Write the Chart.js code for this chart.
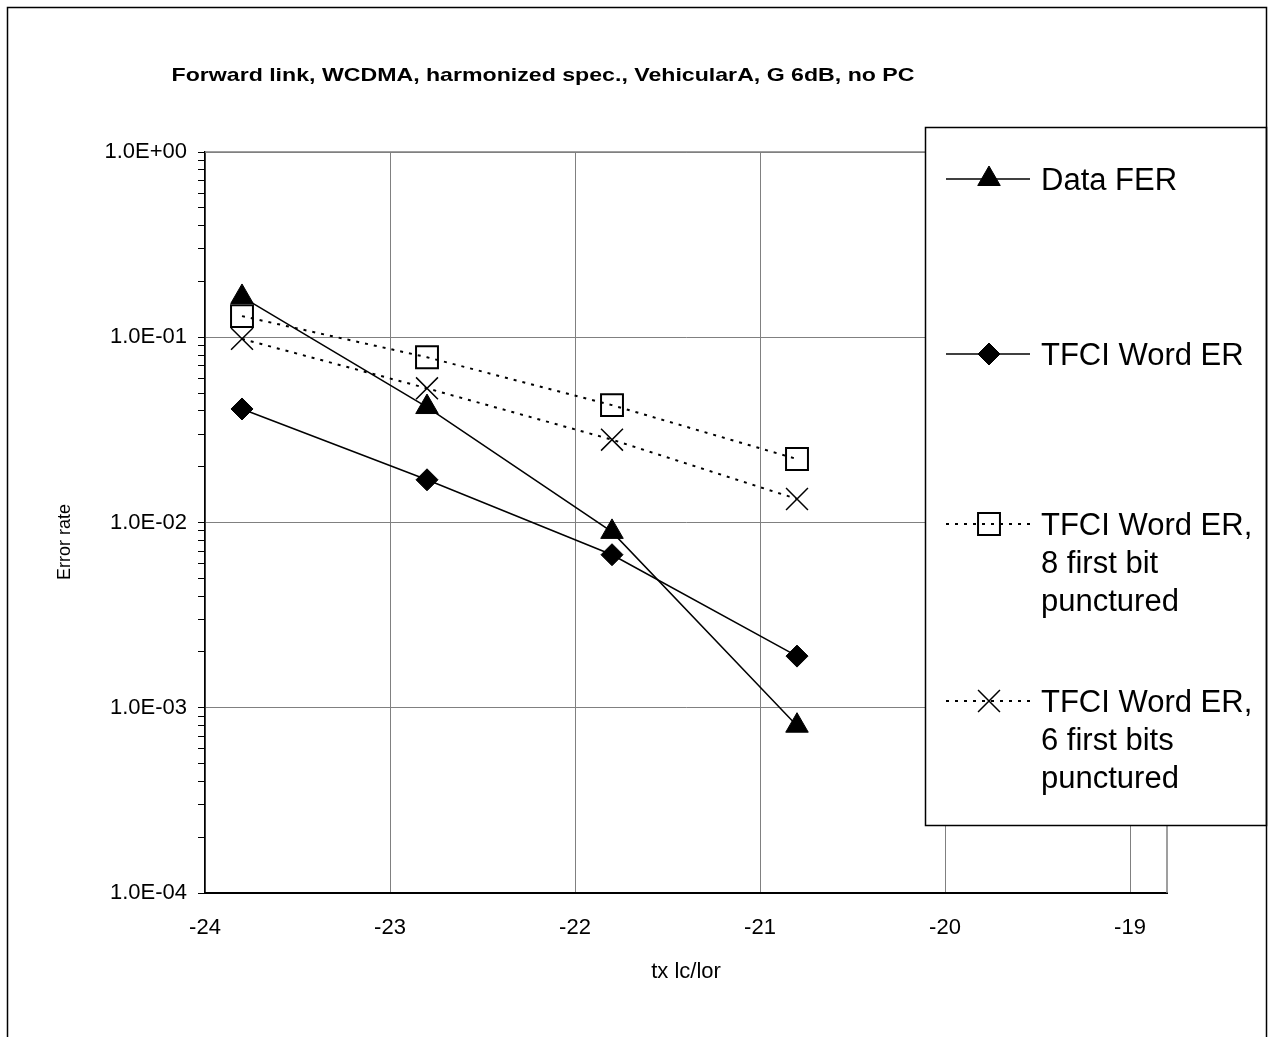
<!DOCTYPE html>
<html>
<head>
<meta charset="utf-8">
<script src="https://cdn.jsdelivr.net/npm/chart.js@4.4.1/dist/chart.umd.min.js"></script>
<style>
  body { margin: 0; background: #fff; }
  canvas { display: block; }
</style>
</head>
<body>
<canvas id="grafico" width="1272" height="1037"></canvas>
<script>
// datos
const titulo = 'Forward link, WCDMA, harmonized spec., VehicularA, G 6dB, no PC';
const tituloX = 'tx lc/lor';
const tituloY = 'Error rate';
const txIcIor = [-23.8, -22.8, -21.8, -20.8];
const dataFER = [0.165, 0.042, 0.0089, 0.0008];
const tfciWordER = [0.041, 0.017, 0.0067, 0.0019];
const tfci8Punct = [0.13, 0.078, 0.043, 0.022];
const tfci6Punct = [0.098, 0.053, 0.028, 0.0134];
const etiquetas = [
  ['Data FER'],
  ['TFCI Word ER'],
  ['TFCI Word ER,', '8 first bit', 'punctured'],
  ['TFCI Word ER,', '6 first bits', 'punctured']
];
const xTicks = [-24, -23, -22, -21, -20, -19];
const yTicks = [1, 0.1, 0.01, 0.001, 0.0001];
const yTickLabels = ['1.0E+00', '1.0E-01', '1.0E-02', '1.0E-03', '1.0E-04'];

Chart.defaults.font.family = '"Liberation Sans", Arial, sans-serif';
Chart.defaults.color = '#000';

const puntos = ys => txIcIor.map((x, i) => ({ x: x, y: ys[i] }));
const indiceDecada = v => yTicks.findIndex(t => Math.abs(Math.log10(v) - Math.log10(t)) < 1e-6);

// marco, leyenda y titulos
const decorado = {
  id: 'decorado',
  beforeDraw(chart) {
    const ctx = chart.ctx;
    ctx.save();
    ctx.fillStyle = '#fff';
    ctx.fillRect(0, 0, chart.width, chart.height);
    ctx.restore();
  },
  beforeDatasetsDraw(chart) {
    const { ctx, chartArea: a } = chart;
    ctx.save();
    ctx.strokeStyle = '#808080';
    ctx.lineWidth = 1.5;
    ctx.beginPath();
    ctx.moveTo(a.left, a.top);
    ctx.lineTo(a.right, a.top);
    ctx.lineTo(a.right, a.bottom);
    ctx.stroke();
    ctx.restore();
  },
  afterDraw(chart) {
    const ctx = chart.ctx;
    ctx.save();

    // caja de la leyenda
    ctx.fillStyle = '#fff';
    ctx.fillRect(925, 127, 341, 698);
    ctx.strokeStyle = '#000';
    ctx.lineWidth = 1.5;
    ctx.strokeRect(925.5, 127.5, 341, 698);

    const filaY = [179, 354, 524, 701];
    chart.data.datasets.forEach((ds, i) => {
      const y = filaY[i];
      ctx.save();
      ctx.strokeStyle = '#000';
      ctx.lineWidth = ds.borderWidth;
      ctx.setLineDash(ds.borderDash || []);
      ctx.beginPath();
      ctx.moveTo(946, y);
      ctx.lineTo(1030, y);
      ctx.stroke();
      ctx.setLineDash([]);
      ctx.fillStyle = ds.pointBackgroundColor;
      ctx.lineWidth = ds.pointBorderWidth;
      Chart.helpers.drawPoint(ctx, {
        pointStyle: ds.pointStyle,
        radius: ds.pointRadius,
        rotation: 0,
        borderWidth: ds.pointBorderWidth
      }, 989, y);
      ctx.restore();

      ctx.fillStyle = '#000';
      ctx.font = '31px "Liberation Sans", Arial, sans-serif';
      ctx.textAlign = 'left';
      ctx.textBaseline = 'middle';
      etiquetas[i].forEach((linea, j) => ctx.fillText(linea, 1041, y + 2 + j * 38));
    });

    // titulo del grafico
    ctx.font = 'bold 19px "Liberation Sans", Arial, sans-serif';
    ctx.textAlign = 'center';
    ctx.textBaseline = 'middle';
    const sx = 743 / ctx.measureText(titulo).width;
    ctx.save();
    ctx.translate(543, 76);
    ctx.scale(sx, 1);
    ctx.fillText(titulo, 0, 0);
    ctx.restore();

    // titulo eje Y
    ctx.save();
    ctx.font = '18px "Liberation Sans", Arial, sans-serif';
    ctx.translate(65, 542);
    ctx.rotate(-Math.PI / 2);
    ctx.fillText(tituloY, 0, 0);
    ctx.restore();

    // marco exterior
    ctx.strokeStyle = '#000';
    ctx.lineWidth = 1.5;
    ctx.strokeRect(7.5, 7.5, 1259, 1100);
    ctx.restore();
  }
};

new Chart(document.getElementById('grafico'), {
  type: 'scatter',
  data: {
    datasets: [
      {
        label: etiquetas[0].join(' '),
        data: puntos(dataFER),
        showLine: true,
        borderColor: '#000',
        borderWidth: 1.5,
        pointStyle: 'triangle',
        pointRadius: 13,
        pointBackgroundColor: '#000',
        pointBorderColor: '#000',
        pointBorderWidth: 1
      },
      {
        label: etiquetas[1].join(' '),
        data: puntos(tfciWordER),
        showLine: true,
        borderColor: '#000',
        borderWidth: 1.5,
        pointStyle: 'rectRot',
        pointRadius: 11,
        pointBackgroundColor: '#000',
        pointBorderColor: '#000',
        pointBorderWidth: 1
      },
      {
        label: etiquetas[2].join(' '),
        data: puntos(tfci8Punct),
        showLine: true,
        borderColor: '#000',
        borderWidth: 2,
        borderDash: [3, 6],
        pointStyle: 'rect',
        pointRadius: 15.5,
        pointBackgroundColor: 'rgba(0,0,0,0)',
        pointBorderColor: '#000',
        pointBorderWidth: 2
      },
      {
        label: etiquetas[3].join(' '),
        data: puntos(tfci6Punct),
        showLine: true,
        borderColor: '#000',
        borderWidth: 2,
        borderDash: [3, 6],
        pointStyle: 'crossRot',
        pointRadius: 15.5,
        pointBackgroundColor: 'rgba(0,0,0,0)',
        pointBorderColor: '#000',
        pointBorderWidth: 1.5
      }
    ]
  },
  options: {
    responsive: false,
    animation: false,
    events: [],
    layout: { padding: { left: 20, right: 105, top: 152, bottom: 40 } },
    plugins: {
      legend: { display: false },
      tooltip: { enabled: false }
    },
    scales: {
      x: {
        type: 'linear',
        min: -24,
        max: -18.8,
        afterFit: scale => { scale.height = 104; },
        afterBuildTicks: scale => {
          scale.ticks = xTicks.map(v => ({ value: v }));
        },
        ticks: {
          includeBounds: false,
          stepSize: 1,
          padding: 22,
          font: { size: 22 },
          callback: v => String(v)
        },
        grid: { color: '#808080', lineWidth: 1, drawTicks: false },
        border: { color: '#000', width: 2 },
        title: {
          display: true,
          text: tituloX,
          font: { size: 22 },
          padding: { top: 0, bottom: 12 }
        }
      },
      y: {
        type: 'logarithmic',
        min: 0.0001,
        max: 1,
        afterFit: scale => { scale.width = 185; },
        afterBuildTicks: scale => {
          scale.ticks = scale.ticks.filter(t => {
            const m = t.value / Math.pow(10, Math.floor(Math.log10(t.value) + 1e-9));
            return Math.abs(m - Math.round(m)) < 1e-6;
          });
        },
        ticks: {
          autoSkip: false,
          padding: 11,
          font: { size: 22 },
          callback: v => {
            const i = indiceDecada(v);
            return i >= 0 ? yTickLabels[i] : '';
          }
        },
        grid: {
          color: c => (c.tick && indiceDecada(c.tick.value) >= 0) ? '#808080' : 'rgba(0,0,0,0)',
          tickColor: '#000',
          tickLength: 7,
          lineWidth: 1
        },
        border: { color: '#000', width: 1.5 }
      }
    }
  },
  plugins: [decorado]
});
</script>
</body>
</html>
